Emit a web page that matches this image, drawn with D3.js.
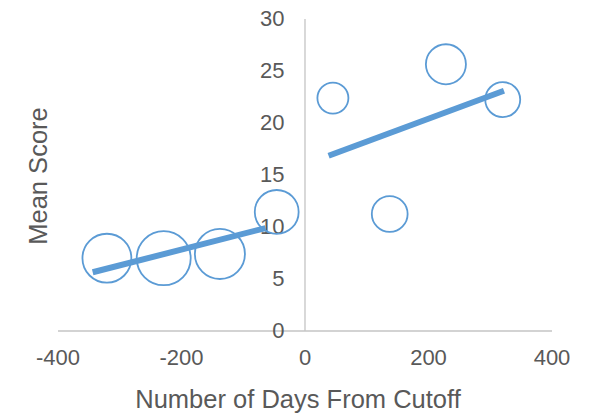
<!DOCTYPE html>
<html>
<head>
<meta charset="utf-8">
<script src="https://cdn.jsdelivr.net/npm/d3@7"></script>
<style>
  html, body { margin: 0; padding: 0; background: #fff; }
  svg { display: block; }
  text { font-family: "Liberation Sans", Arial, sans-serif; fill: #595959; }
</style>
</head>
<body>
<svg id="chart" width="593" height="414"></svg>
<script>
// Days relative to the cutoff, mean score, and group size for each bubble
const days   = [-320, -228, -137, -45, 46, 138, 229, 321];
const scores = [6.95, 6.95, 7.36, 11.4, 22.35, 11.2, 25.6, 22.2];
const sizes  = [82, 100, 86, 66, 33, 44, 55, 42];

// Fitted trend segments before and after the cutoff: [days, score]
const trendBefore = [[-343, 5.6], [-63, 9.85]];
const trendAfter  = [[39, 16.8], [323, 23.05]];

const xTicks = [-400, -200, 0, 200, 400];
const yTicks = [0, 5, 10, 15, 20, 25, 30];

const svg = d3.select("#chart");
const blue = "#5b9bd5";

const x = d3.scaleLinear().domain([-400, 400]).range([57.5, 551.5]);
const y = d3.scaleLinear().domain([0, 30]).range([330.5, 18.5]);
const r = d3.scaleSqrt().domain([0, 100]).range([0, 27]);

// Horizontal axis along score 0 (plain hyphen for negative labels)
const xAxis = svg.append("g")
  .attr("transform", `translate(0,${y(0)})`)
  .call(d3.axisBottom(x).tickValues(xTicks).tickSize(0).tickPadding(19).tickFormat(d => String(d)));
xAxis.select(".domain").attr("stroke", "#c4c4c4").attr("stroke-width", 1.3);
xAxis.selectAll("text").attr("font-size", 22).attr("fill", "#595959")
  .style("font-family", "'Liberation Sans', Arial, sans-serif");

// Vertical axis at day 0
const yAxis = svg.append("g")
  .attr("transform", `translate(${x(0)},0)`)
  .call(d3.axisLeft(y).tickValues(yTicks).tickSize(0).tickPadding(20).tickFormat(d => String(d)));
yAxis.select(".domain").attr("stroke", "#c4c4c4").attr("stroke-width", 1.3);
yAxis.selectAll("text").attr("font-size", 22).attr("fill", "#595959")
  .style("font-family", "'Liberation Sans', Arial, sans-serif");

// Bubbles
svg.append("g").selectAll("circle")
  .data(days.map((d, i) => ({ d, s: scores[i], n: sizes[i] })))
  .join("circle")
  .attr("cx", p => x(p.d))
  .attr("cy", p => y(p.s))
  .attr("r", p => r(p.n))
  .attr("fill", "none")
  .attr("stroke", blue)
  .attr("stroke-width", 1.8);

// Trend lines
const line = d3.line().x(p => x(p[0])).y(p => y(p[1]));
[trendBefore, trendAfter].forEach(seg => {
  svg.append("path")
    .attr("d", line(seg))
    .attr("fill", "none")
    .attr("stroke", blue)
    .attr("stroke-width", 6);
});

// Axis titles
svg.append("text")
  .attr("x", 298).attr("y", 399)
  .attr("text-anchor", "middle")
  .attr("dominant-baseline", "central")
  .attr("font-size", 25.5)
  .text("Number of Days From Cutoff");

svg.append("text")
  .attr("transform", "translate(38,176) rotate(-90)")
  .attr("text-anchor", "middle")
  .attr("dominant-baseline", "central")
  .attr("font-size", 25.5)
  .text("Mean Score");
</script>
</body>
</html>
